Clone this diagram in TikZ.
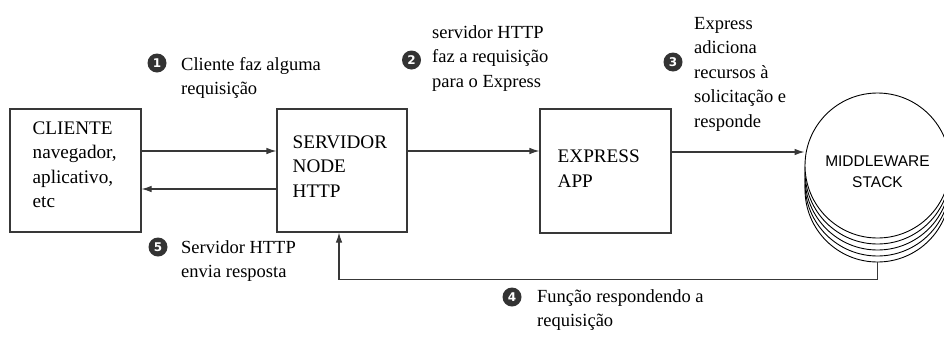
\documentclass[tikz,border=0pt]{standalone}
\usepackage{fontspec}
\setmainfont{Liberation Serif}
\newfontfamily\midfont{Liberation Sans}
\newfontfamily\numfont{DejaVu Sans}
\usetikzlibrary{arrows.meta}
\definecolor{linegray}{gray}{0.22}
\definecolor{numgray}{gray}{0.2}
\tikzset{
  boxshape/.style={draw=linegray, line width=1.1pt, inner sep=0pt},
  boxtext/.style={anchor=north west, inner sep=0pt, align=left,
    font=\fontsize{19.2}{24.5}\selectfont},
  arr/.style={draw=linegray, line width=1.1pt, -{Latex[length=10pt,width=6.5pt]}},
  lbl/.style={anchor=north west, inner sep=0pt, align=left,
    font=\fontsize{18.5}{24.5}\selectfont},
  numc/.style={circle, fill=numgray, text=white, inner sep=0pt, minimum size=19pt,
    font=\numfont\bfseries\fontsize{12}{12}\selectfont},
  stackc/.style={circle, draw=black, line width=0.9pt, fill=white, minimum size=145pt, inner sep=0pt},
}
\begin{document}
\begin{tikzpicture}[x=1pt,y=-1pt]
\useasboundingbox (0,0) rectangle (944,338);
\clip (0,0) rectangle (944,338);
% boxes
\node[boxshape, minimum width=131pt, minimum height=123pt] (cli) at (75.5,170.5) {};
\node[boxtext] (clit) at ([xshift=23pt,yshift=-8.3pt]cli.north west)
  {\strut CLIENTE\\navegador,\\aplicativo,\\etc};
\node[boxshape, minimum width=130pt, minimum height=123pt] (srv) at (342,170.5) {};
\node[boxtext] (srvt) at ([xshift=16pt,yshift=-22.4pt]srv.north west)
  {\strut SERVIDOR\\NODE\\HTTP};
\node[boxshape, minimum width=131pt, minimum height=124pt] (exp) at (605.5,171) {};
\node[boxtext] (expt) at ([xshift=18pt,yshift=-37.1pt]exp.north west)
  {\strut EXPRESS\\APP};
% middleware stack
\node[stackc] (m4) at (877.5,189.5) {};
\node[stackc] (m3) at (877.5,183.5) {};
\node[stackc] (m2) at (877.5,177.5) {};
\node[stackc] (m1) at (877.5,171.5) {};
\node[stackc] (mid) at (877.5,165.5) {};
\node[align=center, inner sep=0pt, font=\midfont\fontsize{15.5}{21}\selectfont] (midt)
  at ([yshift=-6.5pt]mid.center) {MIDDLEWARE\\STACK};
% connectors
\coordinate (c1) at ([yshift=19.5pt]cli.east);
\coordinate (c2) at ([yshift=-18.5pt]srv.west);
\coordinate (c3) at ([yshift=19.5pt]srv.east);
\coordinate (c4) at ([yshift=19pt]exp.east);
\draw[arr] (c1) -- (c1 -| srv.west);
\draw[arr] (c2) -- (c2 -| cli.east);
\draw[arr] (c3) -- (c3 -| exp.west);
\draw[arr] (c4) -- (c4 -| mid.west);
\coordinate (r1) at ([yshift=-17pt]m4.south);
\coordinate (r2) at ([xshift=-3pt]srv.south);
\draw[arr] (m4.south) -- (r1) -- (r1 -| r2) -- (r2);
% labels
\node[numc] (n1) at (157,63) {1};
\node[lbl] (t1) at (181,52.85) {\strut Cliente faz alguma\\requisição};
\node[numc] (n2) at (411.5,60) {2};
\node[lbl] (t2) at (432,20.85) {\strut servidor HTTP\\faz a requisição\\para o Express};
\node[numc] (n3) at (673,62) {3};
\node[lbl] (t3) at (694,11.85) {\strut Express\\adiciona\\recursos à\\solicitação e\\responde};
\node[numc] (n5) at (158,247) {5};
\node[lbl] (t5) at (181,235.85) {\strut Servidor HTTP\\envia resposta};
\node[numc] (n4) at (512,297) {4};
\node[lbl] (t4) at (537,284.85) {\strut Função respondendo a\\requisição};
\end{tikzpicture}
\end{document}
